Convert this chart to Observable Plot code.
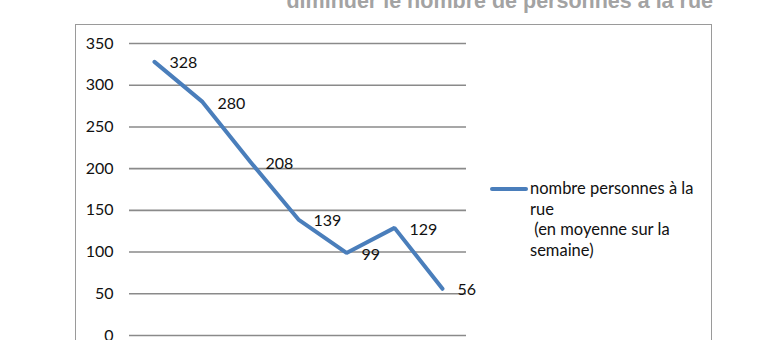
<!DOCTYPE html>
<html>
<head>
<meta charset="utf-8">
<script src="https://cdn.jsdelivr.net/npm/d3@7"></script>
<script src="https://cdn.jsdelivr.net/npm/@observablehq/plot@0.6"></script>
<style>
  html, body { margin: 0; padding: 0; background: #fff; }
  body { width: 770px; height: 340px; overflow: hidden; position: relative; font-family: Lato, "Open Sans", sans-serif; }
  #title { position: absolute; right: 57px; top: -10px; font-family: "Liberation Sans", Arial, sans-serif; font-weight: bold; font-size: 21.5px; color: #a3a3a3; white-space: nowrap; line-height: 22px; }
  #box { position: absolute; left: 75px; top: 24px; width: 637px; height: 400px; border: 1px solid #9a9a9a; box-sizing: border-box; }
  #chart { position: absolute; left: 0; top: 0; }
  #legend { position: absolute; left: 490px; top: 178px; display: flex; align-items: flex-start; }
  #legend .swatch { width: 38px; height: 4px; background: #4a7ebb; margin-top: 9px; border-radius: 2px; }
  #legend .label { font-family: Lato, "Open Sans", sans-serif; font-size: 16.5px; line-height: 20.5px; color: #111; white-space: pre; margin-left: 2px; }
</style>
</head>
<body>
<div id="title"></div>
<div id="box"></div>
<div id="chart"></div>
<div id="legend"><div class="swatch"></div><div class="label" id="legendLabel"></div></div>
<script>
const titleText = "diminuer le nombre de personnes à la rue";
const seriesName = ["nombre personnes à la", "rue", " (en moyenne sur la", "semaine)"];
const categories = ["1", "2", "3", "4", "5", "6", "7"];
const values = [328, 280, 208, 139, 99, 129, 56];
const yTicks = [0, 50, 100, 150, 200, 250, 300, 350];

document.getElementById("title").textContent = titleText;
document.getElementById("legendLabel").textContent = seriesName.join("\n");

const data = categories.map((c, i) => ({cat: c, value: values[i]}));
const lineColor = "#4a7ebb";
const gridColor = "#8a8a8a";

const chart = Plot.plot({
  width: 480,
  height: 340,
  marginLeft: 129,
  marginRight: 14,
  marginTop: 43,
  marginBottom: 5,
  style: { background: "transparent", fontFamily: "Lato, 'Open Sans', sans-serif", fontSize: "16px", color: "#111", overflow: "visible" },
  x: { type: "point", domain: categories, padding: 0.5, axis: null },
  y: { domain: [0, 350], ticks: yTicks, label: null },
  marks: [
    Plot.ruleY(yTicks, { stroke: gridColor, strokeWidth: 1.6 }),
    Plot.ruleX([0], { frameAnchor: "left", y1: 0, y2: 350, stroke: gridColor, strokeWidth: 1.6 }),
    Plot.axisY({ ticks: yTicks, tickSize: 0, tickPadding: 16, fontSize: 16, fill: "#111", label: null }),
    Plot.line(data, { x: "cat", y: "value", stroke: lineColor, strokeWidth: 4, strokeLinejoin: "miter", strokeLinecap: "round" }),
    Plot.text(data, { x: "cat", y: "value", text: d => String(d.value), textAnchor: "start", dx: 15, dy: 1.5, fontSize: 16, fill: "#111" })
  ]
});
document.getElementById("chart").appendChild(chart);
</script>
</body>
</html>
